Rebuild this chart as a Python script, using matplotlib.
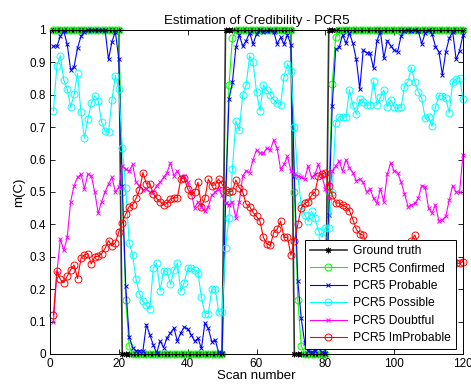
import matplotlib
matplotlib.use('Agg')
import matplotlib.pyplot as plt
import numpy as np

plt.rcParams['font.family'] = ['Liberation Sans', 'DejaVu Sans']

# scan index (1..120)
scan = np.arange(1, 121)

ground_truth = [
    1, 1, 1, 1, 1, 1, 1, 1, 1, 1,
    1, 1, 1, 1, 1, 1, 1, 1, 1, 1,
    0, 0, 0, 0, 0, 0, 0, 0, 0, 0,
    0, 0, 0, 0, 0, 0, 0, 0, 0, 0,
    0, 0, 0, 0, 0, 0, 0, 0, 0, 0,
    1, 1, 1, 1, 1, 1, 1, 1, 1, 1,
    1, 1, 1, 1, 1, 1, 1, 1, 1, 1,
    0, 0, 0, 0, 0, 0, 0, 0, 0, 0,
    1, 1, 1, 1, 1, 1, 1, 1, 1, 1,
    1, 1, 1, 1, 1, 1, 1, 1, 1, 1,
    1, 1, 1, 1, 1, 1, 1, 1, 1, 1,
    1, 1, 1, 1, 1, 1, 1, 1, 1, 1,
]

confirmed = [
    1, 1, 1, 1, 1, 1, 1, 1, 1, 1,
    1, 1, 1, 1, 1, 1, 1, 1, 1, 1,
    0.5, 0.167, 0.025, 0, 0, 0, 0, 0, 0, 0,
    0, 0, 0, 0, 0, 0, 0, 0, 0, 0,
    0, 0, 0, 0, 0, 0, 0, 0, 0, 0,
    0.5, 0.83, 0.975, 1, 1, 1, 1, 1, 1, 1,
    1, 1, 1, 1, 1, 1, 1, 1, 1, 1,
    0.5, 0.167, 0.025, 0, 0, 0, 0, 0, 0, 0,
    0.5, 0.833, 0.977, 1, 1, 1, 1, 1, 1, 1,
    1, 1, 1, 1, 1, 1, 1, 1, 1, 1,
    1, 1, 1, 1, 1, 1, 1, 1, 1, 1,
    1, 1, 1, 1, 1, 1, 1, 1, 1, 1,
]

probable = [
    0.95, 0.95, 0.98, 0.997, 0.956, 0.877, 0.887, 0.945, 0.98, 0.995,
    1.0, 1.0, 1.0, 1.0, 1.0, 1.0, 0.909, 0.964, 0.995, 0.909,
    0.52, 0.21, 0.053, 0.02, 0.01, 0.01, 0.01, 0.09, 0.06, 0.028,
    0.003, 0.04, 0.02, 0.05, 0.065, 0.08, 0.04, 0.065, 0.083, 0.077,
    0.06, 0.04, 0.048, 0.017, 0.095, 0.079, 0.038, 0.043, 0.005, 0.003,
    0.465, 0.786, 0.838, 0.946, 0.985, 0.95, 0.967, 0.992, 0.956, 0.989,
    1.0, 0.995, 0.998, 1.0, 0.995, 0.957, 0.977, 0.957, 0.985, 0.954,
    0.55, 0.225, 0.11, 0.035, 0.01, 0.005, 0.01, 0.02, 0.005, 0.003,
    0.43, 0.765, 0.94, 0.946, 0.985, 0.959, 0.99, 0.959, 0.909, 0.817,
    0.938, 0.93, 0.928, 0.882, 0.967, 0.995, 0.913, 0.967, 0.951, 0.938,
    0.933, 0.981, 0.998, 1.0, 0.998, 1.0, 0.998, 0.957, 0.99, 1.0,
    0.988, 0.949, 0.933, 0.861, 0.933, 0.974, 0.995, 0.909, 0.936, 0.985,
]

possible = [
    0.75, 0.89, 0.921, 0.846, 0.818, 0.763, 0.801, 0.866, 0.746, 0.666,
    0.725, 0.774, 0.797, 0.781, 0.717, 0.688, 0.684, 0.784, 0.859, 0.818,
    0.637, 0.512, 0.344, 0.306, 0.23, 0.186, 0.163, 0.15, 0.139, 0.265,
    0.28, 0.195, 0.257, 0.255, 0.215, 0.258, 0.281, 0.195, 0.22, 0.264,
    0.265, 0.258, 0.25, 0.175, 0.125, 0.125, 0.2, 0.2, 0.13, 0.13,
    0.328, 0.421, 0.57, 0.72, 0.69, 0.8, 0.83, 0.92, 0.9, 0.81,
    0.75, 0.83, 0.815, 0.8, 0.785, 0.775, 0.77, 0.855, 0.895, 0.875,
    0.70, 0.55, 0.46, 0.43, 0.41, 0.44, 0.42, 0.38, 0.36, 0.39,
    0.388, 0.50, 0.714, 0.732, 0.732, 0.732, 0.815, 0.768, 0.74, 0.786,
    0.779, 0.768, 0.768, 0.843, 0.768, 0.792, 0.815, 0.762, 0.784, 0.762,
    0.758, 0.762, 0.825, 0.841, 0.884, 0.839, 0.81, 0.789, 0.728, 0.73,
    0.703, 0.762, 0.797, 0.797, 0.789, 0.744, 0.839, 0.849, 0.853, 0.786,
]

doubtful = [
    0.10, 0.25, 0.355, 0.32, 0.36, 0.47, 0.52, 0.545, 0.555, 0.51,
    0.555, 0.55, 0.50, 0.435, 0.47, 0.50, 0.525, 0.545, 0.50, 0.515,
    0.58, 0.57, 0.565, 0.585, 0.53, 0.52, 0.505, 0.51, 0.50, 0.50,
    0.52, 0.53, 0.545, 0.56, 0.59, 0.55, 0.565, 0.545, 0.55, 0.53,
    0.50, 0.45, 0.47, 0.455, 0.44, 0.455, 0.49, 0.50, 0.51, 0.49,
    0.465, 0.46, 0.47, 0.42, 0.47, 0.55, 0.565, 0.56, 0.60, 0.63,
    0.62, 0.62, 0.635, 0.63, 0.66, 0.635, 0.57, 0.585, 0.61, 0.565,
    0.555, 0.55, 0.545, 0.54, 0.58, 0.545, 0.555, 0.585, 0.55, 0.51,
    0.48, 0.565, 0.58, 0.595, 0.565, 0.60, 0.575, 0.56, 0.535, 0.54,
    0.53, 0.50, 0.51, 0.48, 0.465, 0.51, 0.47, 0.555, 0.59, 0.565,
    0.56, 0.53, 0.495, 0.455, 0.46, 0.465, 0.48, 0.52, 0.515, 0.45,
    0.435, 0.46, 0.41, 0.415, 0.425, 0.475, 0.52, 0.50, 0.50, 0.615,
]

improbable = [
    0.12, 0.257, 0.23, 0.22, 0.24, 0.26, 0.275, 0.233, 0.295, 0.305,
    0.31, 0.278, 0.30, 0.302, 0.31, 0.326, 0.35, 0.333, 0.344, 0.377,
    0.405, 0.432, 0.455, 0.46, 0.48, 0.505, 0.56, 0.525, 0.525, 0.495,
    0.48, 0.47, 0.46, 0.465, 0.478, 0.482, 0.482, 0.54, 0.544, 0.51,
    0.49, 0.50, 0.53, 0.455, 0.48, 0.54, 0.52, 0.522, 0.54, 0.524,
    0.506, 0.50, 0.503, 0.537, 0.513, 0.50, 0.462, 0.455, 0.437, 0.425,
    0.41, 0.36, 0.34, 0.335, 0.375, 0.385, 0.41, 0.36, 0.36, 0.305,
    0.35, 0.40, 0.45, 0.465, 0.47, 0.49, 0.50, 0.55, 0.555, 0.56,
    0.52, 0.49, 0.466, 0.466, 0.459, 0.454, 0.442, 0.415, 0.385, 0.37,
    0.367, 0.34, 0.33, 0.32, 0.32, 0.31, 0.30, 0.31, 0.32, 0.33,
    0.33, 0.34, 0.33, 0.34, 0.35, 0.367, 0.34, 0.33, 0.32, 0.31,
    0.31, 0.30, 0.30, 0.29, 0.29, 0.30, 0.29, 0.28, 0.28, 0.285,
]

fig = plt.figure(figsize=(4.71, 3.88), dpi=100)
ax = fig.add_axes([50 / 471, 34 / 388, 413 / 471, 324 / 388])

lw = 0.8
circ = dict(marker='o', ms=5, mfc='none', mew=0.7, clip_on=False)
cross = dict(marker='x', ms=3, mew=0.7, clip_on=False)

ax.plot(scan, ground_truth, color='0.2', lw=1.2, marker=(8, 2, 0), ms=4,
        mec='k', mew=0.7, clip_on=False, label='Ground truth')
ax.plot(scan, confirmed, color=(0, 1, 0), lw=lw, label='PCR5 Confirmed', **circ)
ax.plot(scan, probable, color=(0, 0, 1), lw=lw, label='PCR5 Probable', **cross)
ax.plot(scan, possible, color=(0, 1, 1), lw=lw, label='PCR5 Possible', **circ)
ax.plot(scan, doubtful, color=(1, 0, 1), lw=lw, label='PCR5 Doubtful', **cross)
ax.plot(scan, improbable, color=(1, 0, 0), lw=lw, label='PCR5 ImProbable', **circ)

ax.set_xlim(0, 120)
ax.set_ylim(0, 1)
ax.set_xticks(range(0, 121, 20))
yt = [i / 10 for i in range(11)]
ax.set_yticks(yt)
ax.set_yticklabels(['0'] + ['%.1f' % v for v in yt[1:-1]] + ['1'])
ax.tick_params(direction='in', top=True, right=True, length=3.5,
               width=0.6, labelsize=8.5, pad=3)
for s in ax.spines.values():
    s.set_linewidth(0.7)

ax.set_title('Estimation of Credibility - PCR5', fontsize=9.5, pad=4)
ax.set_xlabel('Scan number', fontsize=9.5, labelpad=0)
ax.set_ylabel('m(C)', fontsize=9.5, labelpad=3)

leg = ax.legend(loc='lower right', bbox_to_anchor=(0.983, 0.015),
                borderaxespad=0, fancybox=False, edgecolor='k',
                framealpha=1, fontsize=8.7, handlelength=3.1,
                labelspacing=0.45, borderpad=0.4, handletextpad=0.5)
leg.get_frame().set_linewidth(0.7)

fig.savefig('out.png', dpi=100)
